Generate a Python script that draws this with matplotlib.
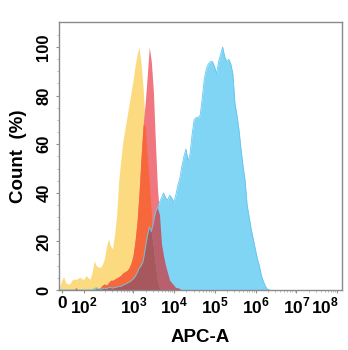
import numpy as np
import matplotlib
matplotlib.use('Agg')
import matplotlib.pyplot as plt
from matplotlib.transforms import ScaledTranslation

# --------------------------------------------------------------------------------------------------------------------
# Data: x = log10(APC-A) bin centres, y = Count (%)
# --------------------------------------------------------------------------------------------------------------------
log_apc = np.round(np.arange(1.19, 6.35, 0.05), 2)

isotype = [1, 4, 5.5, 3, 2.5, 2.5, 4, 4.5, 4.3, 4.8,
           5.3, 4.5, 4.5, 6, 5, 4.5, 7.5, 12, 10, 9.5,
           9.3, 10.5, 13, 18, 21, 18, 17, 23, 31, 45,
           53, 61, 66, 71, 76, 81, 86, 92, 97, 100,
           93, 83, 68, 55, 44, 32, 18, 10, 4, 1,
           0, 0, 0, 0, 0, 0, 0, 0, 0, 0,
           0, 0, 0, 0, 0, 0, 0, 0, 0, 0,
           0, 0, 0, 0, 0, 0, 0, 0, 0, 0,
           0, 0, 0, 0, 0, 0, 0, 0, 0, 0,
           0, 0, 0, 0, 0, 0, 0, 0, 0, 0,
           0, 0, 0, 0]

negative = [0, 0, 0, 0, 0, 0, 0, 0, 1, 0,
            0, 0, 0, 0, 0, 0, 0, 0, 0.5, 0.5,
            1, 2, 2.5, 2, 3, 4, 4, 4.5, 5, 5.5,
            6, 7, 7.5, 8, 9, 11, 14, 20, 28, 40,
            55, 68, 77, 88, 100, 94, 82, 61, 42, 31,
            19, 14, 10, 7, 4, 3, 2, 1, 1, 0.5,
            0, 0, 0, 0, 0, 0, 0, 0, 0, 0,
            0, 0, 0, 0, 0, 0, 0, 0, 0, 0,
            0, 0, 0, 0, 0, 0, 0, 0, 0, 0,
            0, 0, 0, 0, 0, 0, 0, 0, 0, 0,
            0, 0, 0, 0]

positive = [0, 0, 0, 0, 0, 0, 0, 0, 0, 0,
            0, 0, 0, 0, 0, 0, 0, 0.5, 1, 0.5,
            0.3, 0.5, 0.8, 0.5, 1, 1, 0.8, 1, 1.2, 1.5,
            1.5, 2, 2.3, 2.8, 3.2, 3.8, 4.5, 5.5, 7, 9,
            10, 12, 17, 22, 26, 24, 28, 32, 34, 36,
            38, 40, 38, 37, 39, 38, 36, 39, 43, 46,
            51, 55, 58, 53, 56, 64, 70, 71, 71, 72,
            79, 87, 91, 93, 94, 94, 92, 89, 94, 97,
            100, 96, 94, 95, 93, 89, 77, 72, 66, 58,
            51, 45, 35, 30, 25, 21, 17, 13, 10, 6,
            3.5, 1.5, 0.3, 0]

tick_pos = [1.26, 1.78, 3, 4, 5, 6, 7, 8]
tick_labels = ['0', r'$10^{2}$', r'$10^{3}$', r'$10^{4}$', r'$10^{5}$', r'$10^{6}$', r'$10^{7}$', r'$10^{8}$']

y_iso = np.array(isotype, dtype=float)
y_neg = np.array(negative, dtype=float)
y_pos = np.array(positive, dtype=float)

# --------------------------------------------------------------------------------------------------------------------
# Plot
# --------------------------------------------------------------------------------------------------------------------
plt.rcParams['font.family'] = ['Liberation Sans', 'DejaVu Sans']
plt.rcParams['font.weight'] = 'bold'
plt.rcParams['mathtext.fontset'] = 'custom'
plt.rcParams['mathtext.rm'] = 'Liberation Sans:bold'
plt.rcParams['mathtext.bf'] = 'Liberation Sans:bold'

fig = plt.figure(figsize=(3.48, 3.5), dpi=100)
ax = fig.add_axes([0.1695, 0.1714, 0.8135, 0.7657])

# single populations
ax.fill_between(log_apc, 0, y_iso, color='#FCDA80', lw=0)
ax.fill_between(log_apc, 0, y_neg, color='#F0767F', lw=0)
ax.fill_between(log_apc, 0, y_pos, color='#80D4F4', lw=0)
# overlaps
ax.fill_between(log_apc, 0, np.minimum(y_iso, y_neg), color='#F7673C', lw=0)
ax.fill_between(log_apc, 0, np.minimum(y_neg, y_pos), color='#B8606E', lw=0)
ax.fill_between(log_apc, 0, np.minimum(y_iso, y_pos), color='#86B88A', lw=0)
ax.fill_between(log_apc, 0, np.minimum(np.minimum(y_iso, y_neg), y_pos), color='#A6585C', lw=0)
# thin outline of the positive population
ax.plot(log_apc, y_pos, color='#66C6EE', lw=0.6)

ax.set_xlim(1.175, 8.12)
ax.set_ylim(0, 110.3)

ax.set_xticks(tick_pos)
ax.set_xticklabels(tick_labels)
ax.set_yticks([0, 20, 40, 60, 80, 100])
ax.set_yticks(np.arange(0, 110, 5), minor=True)
minor_x = [np.log10(k) + n for n in range(2, 8) for k in range(2, 10)]
ax.set_xticks(minor_x, minor=True)

ax.tick_params(axis='both', which='major', length=2.5, width=0.8, color='#909090', pad=2)
ax.tick_params(axis='x', labelsize=12.5)
ax.tick_params(axis='y', labelsize=12, labelrotation=90, pad=3)
ax.tick_params(axis='both', which='minor', length=1.3, width=0.5, color='#a0a0a0')
for lab in ax.get_yticklabels():
    lab.set_va('center')
last = ax.get_xticklabels()[-1]
last.set_ha('right')
last.set_transform(last.get_transform() + ScaledTranslation(2 / 100, 0, fig.dpi_scale_trans))

for s in ax.spines.values():
    s.set_color('#8a8a8a')
    s.set_linewidth(1.0)

ax.set_xlabel('APC-A', fontsize=13.5, fontweight='bold', labelpad=9)
ax.set_ylabel('Count  (%)', fontsize=13.5, fontweight='bold', labelpad=7)

fig.savefig('out.png', dpi=100)
